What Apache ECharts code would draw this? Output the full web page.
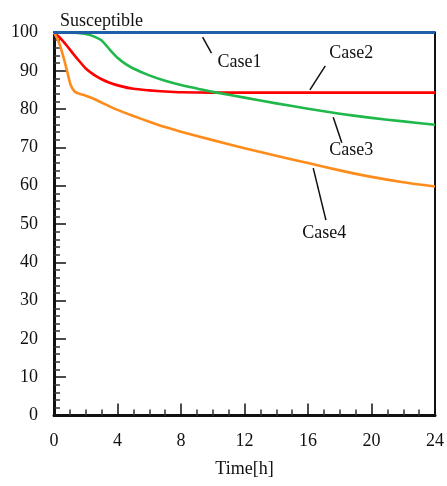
<!DOCTYPE html>
<html>
<head>
<meta charset="utf-8">
<script src="https://cdn.jsdelivr.net/npm/echarts@6/dist/echarts.min.js"></script>
<style>html,body{margin:0;padding:0;background:#fff}#c{width:447px;height:486px}</style>
</head>
<body>
<div id="c"></div>
<script>
// ---- data ----
const xTicks = [0, 4, 8, 12, 16, 20, 24];
const yTicks = [0, 10, 20, 30, 40, 50, 60, 70, 80, 90, 100];

const case1T = [0, 24];
const case1V = [100, 100];

const case2T = [0, 0.4, 0.8, 1.2, 1.6, 2.0, 2.5, 3.0, 3.5, 4.2, 5.0, 6.0, 7.0, 8.0, 10, 12, 16, 20, 24];
const case2V = [100, 98.5, 96.6, 94.5, 92.5, 90.6, 89.0, 87.8, 86.9, 86.0, 85.3, 84.9, 84.6, 84.4, 84.3, 84.3, 84.3, 84.3, 84.3];

const case3T = [0, 1, 1.5, 2.0, 2.5, 3.0, 3.5, 4.0, 4.5, 5.0, 6.0, 7.0, 8.0, 9.0, 10, 12, 14, 16, 18, 20, 22, 24];
const case3V = [100, 100, 99.9, 99.6, 99.0, 97.9, 95.6, 93.4, 91.8, 90.6, 88.8, 87.4, 86.3, 85.4, 84.5, 83.0, 81.5, 80.1, 78.8, 77.7, 76.8, 75.9];

const case4T = [0, 0.3, 0.6, 0.85, 1.05, 1.3, 1.6, 2.0, 2.5, 3.0, 3.5, 4.0, 5.0, 6.0, 7.0, 8.0, 10, 12, 14, 16, 18, 20, 22, 24];
const case4V = [100, 97.5, 93.5, 89.5, 86.3, 84.6, 84.0, 83.5, 82.7, 81.7, 80.7, 79.8, 78.2, 76.7, 75.3, 74.1, 71.9, 69.8, 67.8, 65.9, 64.0, 62.3, 60.9, 59.8];

const seriesNames = ['Case1', 'Case2', 'Case3', 'Case4'];
const seriesColors = ['#1f5ea8', '#ff0000', '#1fb84a', '#ff8c1a'];

// annotation labels: text, text anchor [t, value], leader line from/to [t, value]
const annText = ['Case1', 'Case2', 'Case3', 'Case4'];
const annTextPos = [[10.3, 92.3], [18.72, 94.6], [18.72, 69.3], [17.02, 47.6]];
const annTextAlign = ['left', 'center', 'center', 'center'];
const annLineFrom = [[9.36, 98.8], [17.09, 91.3], [17.59, 77.9], [16.33, 64.6]];
const annLineTo = [[9.92, 94.6], [16.12, 85.0], [18.13, 71.2], [17.13, 51.0]];

const FONT = 'Liberation Serif';

function pairs(t, v) { return t.map((x, i) => [x, v[i]]); }
const allT = [case1T, case2T, case3T, case4T];
const allV = [case1V, case2V, case3V, case4V];

const chart = echarts.init(document.getElementById('c'), null, { renderer: 'canvas' });

const option = {
  animation: false,
  backgroundColor: '#fff',
  title: {
    text: 'Susceptible', left: 55, top: 7,
    textStyle: { fontFamily: FONT, fontSize: 18, fontWeight: 'normal', color: '#111' }
  },
  grid: {
    left: 54, right: 11, top: 32.5, bottom: 70.5,
    show: true, borderColor: '#111', borderWidth: 2, backgroundColor: 'transparent'
  },
  xAxis: {
    type: 'value', min: 0, max: 24, interval: 4,
    name: 'Time[h]', nameLocation: 'middle', nameGap: 45,
    nameTextStyle: { fontFamily: FONT, fontSize: 18, color: '#111' },
    axisLine: { show: true, onZero: false, lineStyle: { color: '#111', width: 3 } },
    axisTick: { show: true, inside: true, length: 12, lineStyle: { color: '#111', width: 1.5 } },
    minorTick: { show: true, splitNumber: 4, length: 6, lineStyle: { color: '#333', width: 1.5 } },
    splitLine: { show: false },
    axisLabel: {
      margin: 17, fontFamily: FONT, fontSize: 18, color: '#111',
      formatter: v => xTicks.includes(v) ? String(v) : ''
    }
  },
  yAxis: {
    type: 'value', min: 0, max: 100, interval: 10,
    axisLine: { show: true, onZero: false, lineStyle: { color: '#111', width: 3 } },
    axisTick: { show: true, inside: true, length: 12, lineStyle: { color: '#111', width: 1.5 } },
    minorTick: { show: true, splitNumber: 5, length: 6, lineStyle: { color: '#333', width: 1.5 } },
    splitLine: { show: false },
    axisLabel: {
      margin: 16, fontFamily: FONT, fontSize: 18, color: '#111',
      formatter: v => yTicks.includes(v) ? String(v) : ''
    }
  },
  series: seriesNames.map((n, i) => ({
    name: n, type: 'line',
    data: pairs(allT[i], allV[i]),
    smooth: 0.25,
    showSymbol: false, symbol: 'none',
    clip: false,
    z: i === 0 ? 5 : 3,
    lineStyle: { color: seriesColors[i], width: i === 0 ? 3 : 2.6, join: 'round' }
  }))
};
chart.setOption(option);

function px(p) { return chart.convertToPixel({ gridIndex: 0 }, p); }
const graphics = [];
annText.forEach((t, i) => {
  const a = px(annLineFrom[i]), b = px(annLineTo[i]);
  graphics.push({
    type: 'line', z: 10,
    shape: { x1: a[0], y1: a[1], x2: b[0], y2: b[1] },
    style: { stroke: '#111', lineWidth: 1.5 }
  });
  const p = px(annTextPos[i]);
  graphics.push({
    type: 'text', z: 10, x: p[0], y: p[1],
    style: {
      text: t, font: '18px "' + FONT + '"', fill: '#111',
      textAlign: annTextAlign[i], textVerticalAlign: 'middle'
    }
  });
});
chart.setOption({ graphic: graphics });
</script>
</body>
</html>
